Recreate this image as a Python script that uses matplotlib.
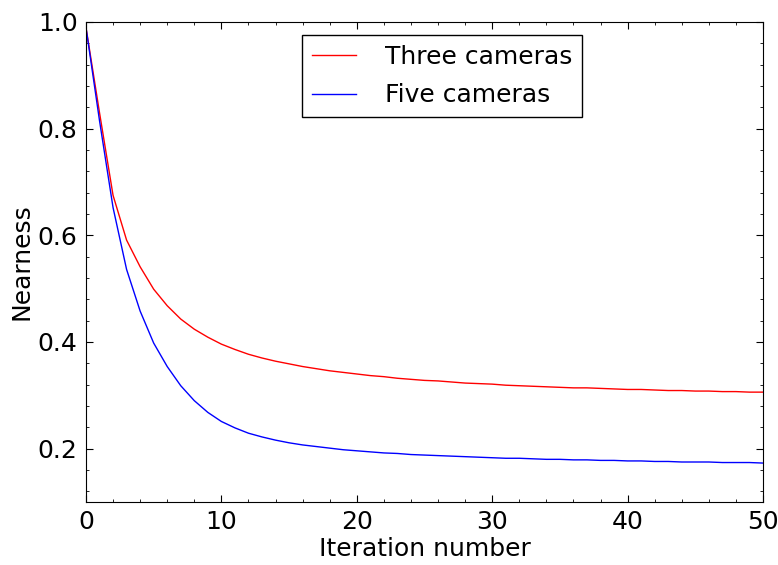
import matplotlib
matplotlib.use("Agg")
import matplotlib.pyplot as plt
from matplotlib.ticker import AutoMinorLocator

# iteration index 0..50
iterations = list(range(51))

# nearness values
three_cameras = [
    0.990, 0.830, 0.675, 0.591, 0.541, 0.499, 0.468, 0.443, 0.424, 0.409,
    0.396, 0.386, 0.377, 0.370, 0.364, 0.359, 0.354, 0.350, 0.346, 0.343,
    0.340, 0.337, 0.335, 0.332, 0.330, 0.328, 0.327, 0.325, 0.323, 0.322,
    0.321, 0.319, 0.318, 0.317, 0.316, 0.315, 0.314, 0.314, 0.313, 0.312,
    0.311, 0.311, 0.310, 0.309, 0.309, 0.308, 0.308, 0.307, 0.307, 0.306,
    0.306,
]
five_cameras = [
    0.990, 0.815, 0.652, 0.536, 0.458, 0.398, 0.354, 0.318, 0.290, 0.268,
    0.251, 0.239, 0.229, 0.222, 0.216, 0.211, 0.207, 0.204, 0.201, 0.198,
    0.196, 0.194, 0.192, 0.191, 0.189, 0.188, 0.187, 0.186, 0.185, 0.184,
    0.183, 0.182, 0.182, 0.181, 0.180, 0.180, 0.179, 0.179, 0.178, 0.178,
    0.177, 0.177, 0.176, 0.176, 0.175, 0.175, 0.175, 0.174, 0.174, 0.174,
    0.173,
]

fig = plt.figure(figsize=(7.78, 5.65), dpi=100)
ax = fig.add_axes([0.1105, 0.1115, 0.8702, 0.8496])

ax.plot(iterations, three_cameras, color='red', linewidth=1.0, label='Three cameras')
ax.plot(iterations, five_cameras, color='blue', linewidth=1.0, label='Five cameras')

ax.set_xlim(0, 50)
ax.set_ylim(0.1, 1.0)
ax.set_xticks([0, 10, 20, 30, 40, 50])
ax.set_yticks([0.2, 0.4, 0.6, 0.8, 1.0])
ax.xaxis.set_minor_locator(AutoMinorLocator(5))
ax.yaxis.set_minor_locator(AutoMinorLocator(5))
ax.tick_params(which='both', direction='in', top=True, right=True, labelsize=18)
ax.tick_params(which='major', length=5, pad=6)
ax.tick_params(which='minor', length=2.5)

ax.set_xlabel('Iteration number', fontsize=18, labelpad=2)
ax.set_ylabel('Nearness', fontsize=18, labelpad=3)

# legend box sized like the old-style one in the reference
leg = ax.legend(loc='upper center', bbox_to_anchor=(0.526, 0.973), borderaxespad=0,
                fontsize=18, fancybox=False, framealpha=1, edgecolor='black',
                handlelength=1.76, handletextpad=1.16, labelspacing=0.58)
leg.get_frame().set_linewidth(1.0)

plt.savefig('out.png', dpi=100)
